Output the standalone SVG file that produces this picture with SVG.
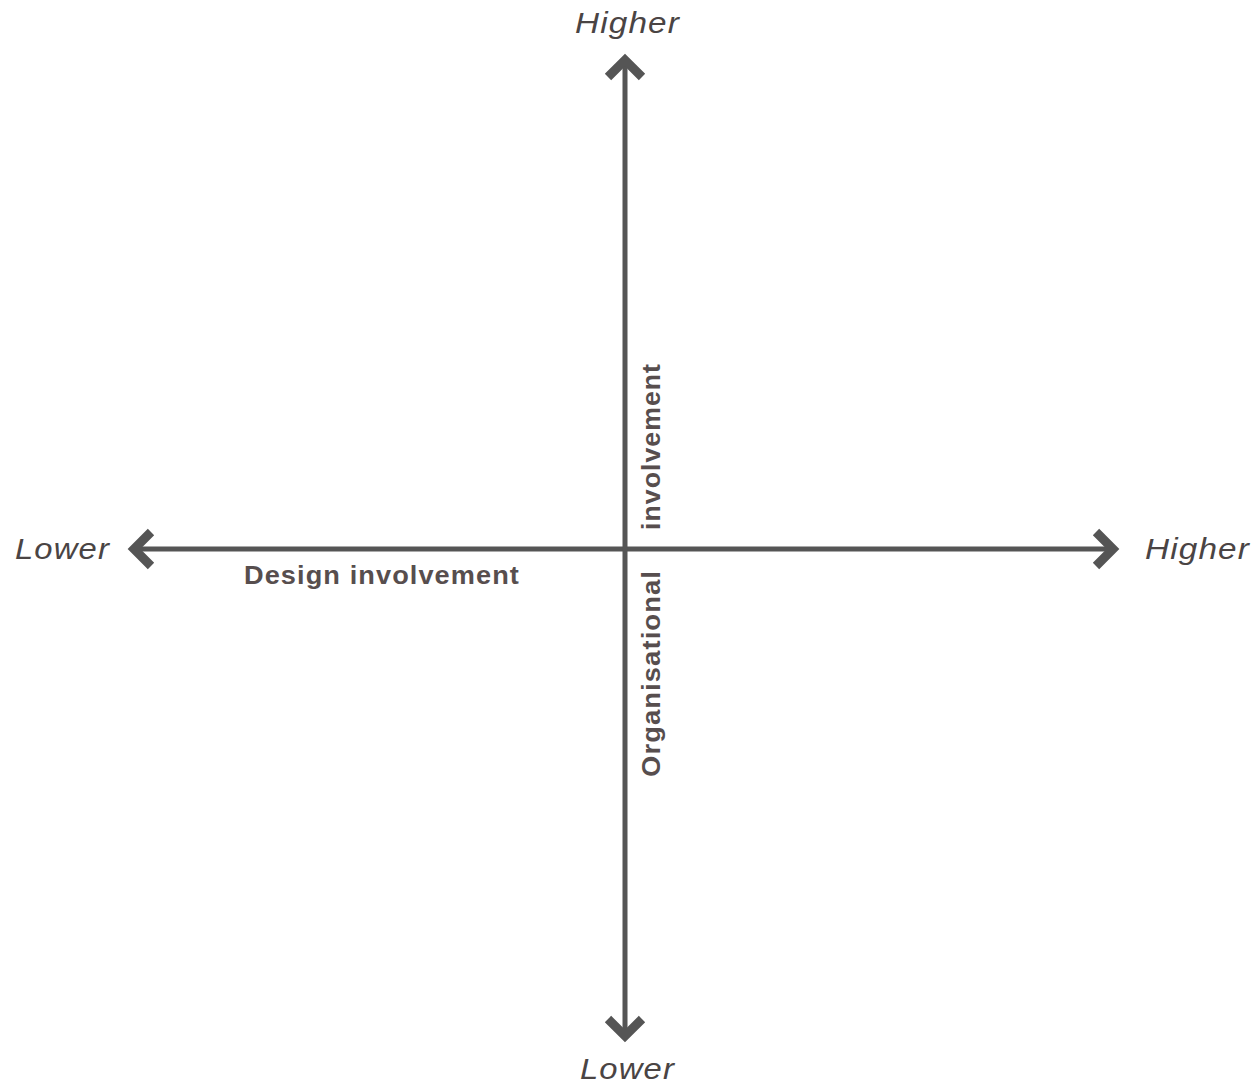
<svg xmlns="http://www.w3.org/2000/svg" width="1257" height="1085" viewBox="0 0 1257 1085">
  <style>
    .axis { stroke: #555555; stroke-width: 5; fill: none; }
    .head { stroke: #555555; stroke-width: 9; fill: none; stroke-linejoin: miter; stroke-miterlimit: 10; }
    .end { font-family: "Liberation Sans", Arial, sans-serif; font-style: italic; font-size: 29px; letter-spacing: 1px; fill: #4a4444; }
    .title { font-family: "Liberation Sans", Arial, sans-serif; font-weight: bold; font-size: 25px; letter-spacing: 1px; fill: #574e4e; }
  </style>
  <rect width="1257" height="1085" fill="#ffffff"/>

  <g id="connectors">
    <!-- horizontal axis: design involvement -->
    <line class="axis" x1="136" y1="549" x2="1111" y2="549"/>
    <polyline class="head" points="151,532 134,549 151,566"/>
    <polyline class="head" points="1096,532 1113,549 1096,566"/>
    <!-- vertical axis: organisational involvement -->
    <line class="axis" x1="625" y1="62" x2="625" y2="1034"/>
    <polyline class="head" points="608,77 625,60 642,77"/>
    <polyline class="head" points="608,1019 625,1036 642,1019"/>
  </g>

  <g id="x-axis-labels">
    <text class="end" x="15" y="559" textLength="95" lengthAdjust="spacingAndGlyphs">Lower</text>
    <text class="end" x="1145" y="559" textLength="105" lengthAdjust="spacingAndGlyphs">Higher</text>
    <text class="title" x="244" y="584" textLength="276" lengthAdjust="spacingAndGlyphs">Design involvement</text>
  </g>

  <g id="y-axis-labels">
    <text class="end" x="575" y="33" textLength="105" lengthAdjust="spacingAndGlyphs">Higher</text>
    <text class="end" x="580" y="1079" textLength="95" lengthAdjust="spacingAndGlyphs">Lower</text>
    <text class="title" transform="translate(660,530) rotate(-90)" textLength="167" lengthAdjust="spacingAndGlyphs">involvement</text>
    <text class="title" transform="translate(660,777) rotate(-90)" textLength="207" lengthAdjust="spacingAndGlyphs">Organisational</text>
  </g>
</svg>
